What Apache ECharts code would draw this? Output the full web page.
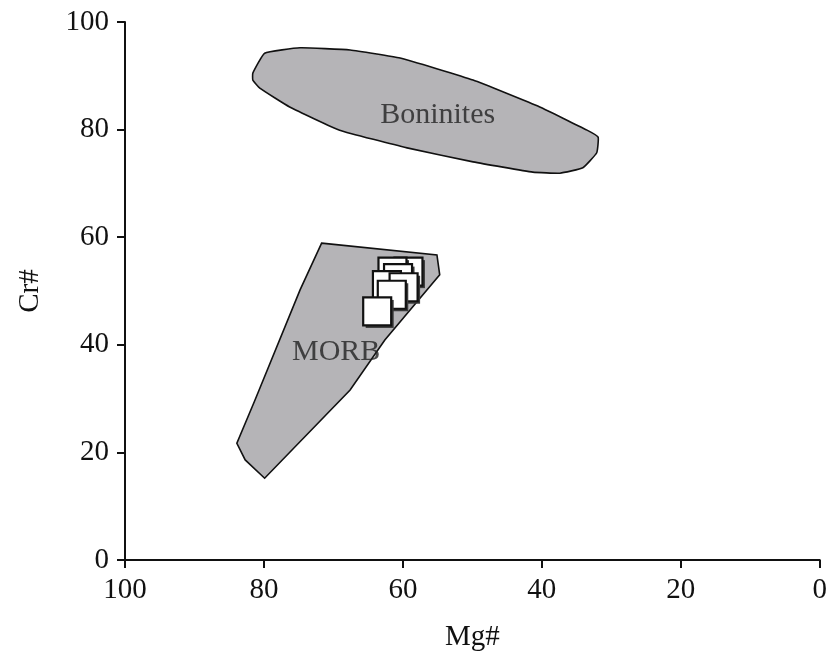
<!DOCTYPE html>
<html>
<head>
<meta charset="utf-8">
<script src="https://cdn.jsdelivr.net/npm/echarts@6/dist/echarts.min.js"></script>
<style>html,body{margin:0;padding:0;background:#fff}#c{width:830px;height:658px}</style>
</head>
<body>
<div id="c"></div>
<script>
// Field outlines [Mg#, Cr#]
var boninitesField = [
  [81.6, 90.5], [79.9, 94.2], [74.8, 95.2], [67.6, 94.8], [60.4, 93.3], [49.9, 89.2],
  [40.3, 84.2], [33.5, 79.9], [31.9, 78.6], [32.1, 75.7], [34.1, 72.9], [37.4, 71.9],
  [41.3, 72.1], [49.9, 74.0], [59.4, 76.6], [69.1, 79.9], [76.3, 84.2], [80.6, 87.7],
  [81.6, 89.2]
];
var morbField = [
  [71.7, 58.9], [55.1, 56.7], [54.7, 53.0], [62.6, 40.9], [67.6, 31.6], [79.9, 15.2],
  [82.7, 18.6], [83.9, 21.7], [81.3, 29.7], [74.8, 50.2]
];
// Samples [Mg#, Cr#] (back to front)
var samples = [
  [59.2, 53.6], [61.5, 53.6], [60.7, 52.4], [62.3, 51.1], [59.9, 50.7], [61.6, 49.3], [63.7, 46.2]
];
var fieldLabels = [
  {name: 'Boninites', value: [55.0, 82.7]},
  {name: 'MORB', value: [69.6, 38.7]}
];
var xTicks = [0, 20, 40, 60, 80, 100];
var yTicks = [0, 20, 40, 60, 80, 100];

var font = '"Liberation Serif", "Times New Roman", serif';
function polySeries(pts, smooth) {
  return {
    type: 'custom',
    silent: true,
    data: [0],
    renderItem: function (params, api) {
      var p = pts.map(function (d) { return api.coord(d); });
      return {
        type: 'polygon',
        shape: { points: p, smooth: smooth },
        style: { fill: '#b5b4b7', stroke: '#111', lineWidth: 1.6 }
      };
    },
    z: 1
  };
}
var axisCommon = {
  type: 'value', min: 0, max: 100, interval: 20,
  splitLine: { show: false },
  axisLine: { show: true, onZero: false, lineStyle: { color: '#111', width: 2 } },
  axisTick: { show: true, length: 8, lineStyle: { color: '#111', width: 2 } },
  axisLabel: { color: '#111', fontFamily: font, fontSize: 29 },
  nameTextStyle: { color: '#111', fontFamily: font, fontSize: 29 },
  nameLocation: 'middle'
};
var chart = echarts.init(document.getElementById('c'));
chart.setOption({
  animation: false,
  backgroundColor: '#fff',
  grid: { left: 125, right: 10, top: 22, bottom: 98, containLabel: false },
  xAxis: Object.assign({}, axisCommon, {
    inverse: true, name: 'Mg#', nameGap: 63,
    axisLabel: Object.assign({}, axisCommon.axisLabel, { margin: 16,
      formatter: function (v) { return xTicks.indexOf(v) >= 0 ? String(v) : ''; } })
  }),
  yAxis: Object.assign({}, axisCommon, {
    name: 'Cr#', nameGap: 80, nameRotate: 90,
    axisLabel: Object.assign({}, axisCommon.axisLabel, { margin: 16,
      formatter: function (v) { return yTicks.indexOf(v) >= 0 ? String(v) : ''; } })
  }),
  series: [
    polySeries(boninitesField, 0.12),
    polySeries(morbField, 0),
    {
      type: 'scatter', data: fieldLabels, symbolSize: 0, z: 3,
      label: { show: true, position: 'inside', formatter: '{b}', color: '#222',
        fontFamily: font, fontSize: 30 }
    },
    {
      type: 'custom', data: samples, z: 4,
      renderItem: function (params, api) {
        var c = api.coord([api.value(0), api.value(1)]);
        var s = 28;
        return {
          type: 'group',
          children: [
            { type: 'rect', shape: { x: c[0] - s / 2 + 2.5, y: c[1] - s / 2 + 2.5, width: s, height: s },
              style: { fill: '#3a3a3a' } },
            { type: 'rect', shape: { x: c[0] - s / 2, y: c[1] - s / 2, width: s, height: s },
              style: { fill: '#fff', stroke: '#111', lineWidth: 2.2 } }
          ]
        };
      }
    }
  ]
});
</script>
</body>
</html>
